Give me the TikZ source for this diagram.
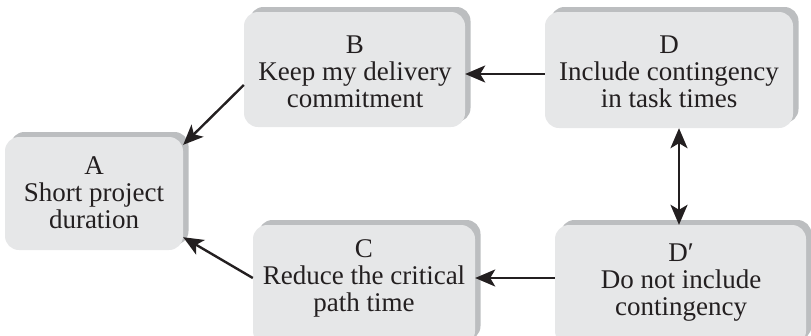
\documentclass[tikz,border=0pt]{standalone}
\usepackage{fontspec}
\setmainfont{Liberation Serif}
\usetikzlibrary{arrows.meta,shadows,calc}

\definecolor{boxfill}{HTML}{E6E7E8}
\definecolor{boxshade}{HTML}{BCBEC0}
\definecolor{ink}{HTML}{231F20}

\tikzset{
  card/.style={fill=boxfill, draw=none, rounded corners=14pt, inner sep=0pt,
    drop shadow={shadow xshift=5.5pt, shadow yshift=5pt, fill=boxshade, opacity=1}},
  caption/.style={align=center, text=ink, inner sep=0pt,
    font=\fontsize{27}{27}\selectfont},
  link/.style={draw=ink, line width=2.4pt,
    -{Stealth[length=20pt,width=17pt,inset=5pt]}},
  twoway/.style={draw=ink, line width=2.4pt,
    {Stealth[length=20pt,width=17pt,inset=5pt]}-{Stealth[length=20pt,width=17pt,inset=5pt]}},
}

\begin{document}
\begin{tikzpicture}[x=1pt,y=-1pt]
  \useasboundingbox (0,0) rectangle (811,335);
  \clip (0,0) rectangle (811,335);

  % cards
  \node[card, minimum width=178pt, minimum height=113pt] (A)  at (94,193.5)  {};
  \node[card, minimum width=221pt, minimum height=115pt] (B)  at (354.5,69.5) {};
  \node[card, minimum width=248pt, minimum height=116pt] (D)  at (669,70)    {};
  \node[card, minimum width=222pt, minimum height=120pt] (C)  at (364,285)   {};
  \node[card, minimum width=251pt, minimum height=120pt] (D2) at (680.5,285) {};

  % card texts
  \node[caption] (At)  at (94,193)  {A\\Short project\\duration};
  \node[caption] (Bt)  at (355,72)  {B\\Keep my delivery\\commitment};
  \node[caption] (Dt)  at (669,72)  {D\\Include contingency\\in task times};
  \node[caption] (Ct)  at (364,278) {C\\Reduce the critical\\path time};
  \node[caption] (D2t) at (681,283) {D′\\Do not include\\contingency};

  % connectors
  \draw[link] ([yshift=-15.5pt]B.west) -- ([yshift=-8pt]A.north east);
  \coordinate (db) at ([yshift=-4pt]D.west);
  \draw[link] (db) -- (db -| B.east);
  \coordinate (dd) at ([xshift=10pt]D.south);
  \draw[twoway] (dd) -- (dd |- D2.north);
  \coordinate (dc) at ([yshift=7pt]D2.west);
  \draw[link] (dc) -- (dc -| C.east);
  \draw[link] ([yshift=7pt]C.west) -- ([yshift=13pt]A.south east);
\end{tikzpicture}
\end{document}
